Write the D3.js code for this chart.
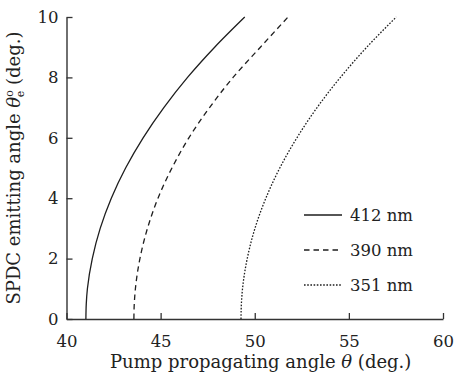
<!DOCTYPE html>
<html>
<meta charset="utf-8">
<script src="https://d3js.org/d3.v7.min.js"></script>
<style>
  body { margin: 0; background: #fff; }
  svg text { font-family: "DejaVu Serif", serif; fill: #222; }
</style>
<body>
<div id="chart"></div>
<script>
// values: emitting angle (deg.) against pump angle (deg.)
var emitAngle = [0, 0.5, 1, 2, 3, 4, 5, 6, 7, 8, 9, 10];
var pump412 = [41.03, 41.05, 41.11, 41.37, 41.79, 42.38, 43.14, 44.07, 45.17, 46.43, 47.87, 49.47];
var pump390 = [43.58, 43.6, 43.66, 43.9, 44.3, 44.86, 45.6, 46.5, 47.6, 48.85, 50.3, 51.77];
var pump351 = [49.27, 49.29, 49.35, 49.6, 50.01, 50.59, 51.33, 52.24, 53.31, 54.55, 55.95, 57.52];

var seriesNames = ["412 nm", "390 nm", "351 nm"];
var seriesDash = ["none", "5.5,4", "1.6,1.6"];

var xTicks = [40, 45, 50, 55, 60];
var yTicks = [0, 2, 4, 6, 8, 10];

var margin = {top: 17, right: 13, bottom: 58, left: 66.5},
    width = 456 - margin.left - margin.right,
    height = 377 - margin.top - margin.bottom;

var svg = d3.select("#chart")
  .append("svg")
    .attr("width", 456)
    .attr("height", 377)
  .append("g")
    .attr("transform", "translate(" + margin.left + "," + margin.top + ")");

var x = d3.scaleLinear().domain([40, 60]).range([0, width]);
var y = d3.scaleLinear().domain([0, 10]).range([height, 0]);

// axes, ticks point inward
var xAxis = svg.append("g")
    .attr("transform", "translate(0," + height + ")")
    .call(d3.axisBottom(x).tickValues(xTicks).tickSizeInner(-6).tickSizeOuter(0).tickPadding(16));
var yAxis = svg.append("g")
    .call(d3.axisLeft(y).tickValues(yTicks).tickSizeInner(-6).tickSizeOuter(0).tickPadding(8));

[xAxis, yAxis].forEach(function(a) {
  a.select(".domain").attr("stroke", "#333").attr("stroke-width", 1.4);
  a.selectAll(".tick line").attr("stroke", "#333").attr("stroke-width", 1.3);
  a.selectAll("text").attr("font-size", 16.5);
});

// curves
var line = d3.line()
    .x(function(d) { return x(d[0]); })
    .y(function(d) { return y(d[1]); })
    .curve(d3.curveMonotoneY);

var series = [
  d3.zip(pump412, emitAngle),
  d3.zip(pump390, emitAngle),
  d3.zip(pump351, emitAngle)
];

svg.selectAll(".curve")
  .data(series)
  .enter()
  .append("path")
    .attr("class", "curve")
    .attr("d", line)
    .attr("fill", "none")
    .attr("stroke", "#1e1e1e")
    .attr("stroke-width", 1.3)
    .attr("stroke-dasharray", function(d, i) { return seriesDash[i]; });

// legend
var legend = svg.selectAll(".leg")
  .data(seriesNames)
  .enter()
  .append("g")
    .attr("transform", function(d, i) { return "translate(" + (304 - margin.left) + "," + (215 - margin.top + i * 35) + ")"; });
legend.append("line")
    .attr("x1", 0).attr("x2", 38)
    .attr("stroke", "#1e1e1e")
    .attr("stroke-width", 1.3)
    .attr("stroke-dasharray", function(d, i) { return seriesDash[i]; });
legend.append("text")
    .attr("x", 46)
    .attr("dy", "0.35em")
    .attr("font-size", 16.5)
    .text(function(d) { return d; });

// axis titles
svg.append("text")
    .attr("x", 110 - margin.left)
    .attr("y", height + 49)
    .attr("font-size", 18)
    .call(function(t) {
      t.append("tspan").text("Pump propagating angle ");
      t.append("tspan").attr("font-style", "italic").text("θ");
      t.append("tspan").text(" (deg.)");
    });

svg.append("text")
    .attr("transform", "translate(-47," + (height / 2) + ") rotate(-90)")
    .attr("text-anchor", "middle")
    .attr("font-size", 18)
    .call(function(t) {
      t.append("tspan").text("SPDC emitting angle ");
      t.append("tspan").attr("font-style", "italic").text("θ");
      t.append("tspan").attr("font-size", 11).attr("dy", -7).text("o");
      t.append("tspan").attr("font-size", 11).attr("dx", -7).attr("dy", 11).text("e");
      t.append("tspan").attr("dy", -4).text(" (deg.)");
    });
</script>
</body>
</html>
